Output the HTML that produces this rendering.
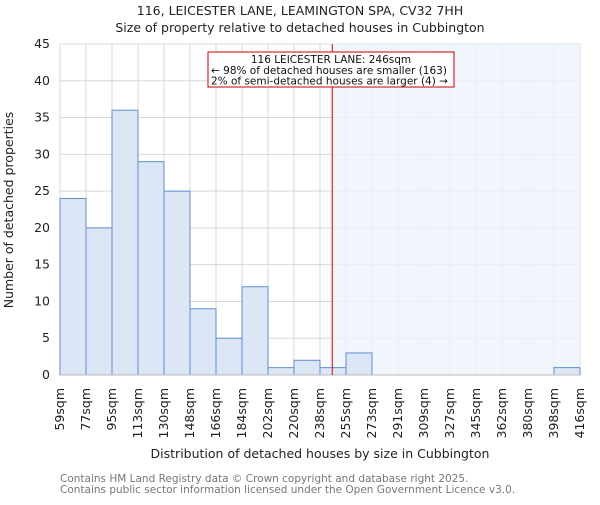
<!DOCTYPE html>
<html><head><meta charset="utf-8"><style>
body{margin:0;background:#fff;}
svg text{font-family:"DejaVu Sans","Liberation Sans",sans-serif;}
</style></head><body>
<svg id="chart" width="600" height="500" xmlns="http://www.w3.org/2000/svg">
<text x="300" y="15" text-anchor="middle" font-size="12.5" fill="#222">116, LEICESTER LANE, LEAMINGTON SPA, CV32 7HH</text>
<text x="300" y="32" text-anchor="middle" font-size="12.5" fill="#222">Size of property relative to detached houses in Cubbington</text>
<g id="grid"></g><g id="shade"></g><g id="bars"></g><g id="axes"></g>
<text transform="translate(13,210) rotate(-90)" text-anchor="middle" font-size="12.5" fill="#222">Number of detached properties</text>
<text x="320" y="458" text-anchor="middle" font-size="12.5" fill="#222">Distribution of detached houses by size in Cubbington</text>
<text x="60" y="482" font-size="10.5" fill="#777">Contains HM Land Registry data © Crown copyright and database right 2025.</text>
<text x="60" y="493" font-size="10.5" fill="#777">Contains public sector information licensed under the Open Government Licence v3.0.</text>
<g>
<rect x="208" y="52" width="246" height="35" fill="#fff" stroke="#c00" stroke-width="1"/>
<text x="331" y="63" text-anchor="middle" font-size="10.5" fill="#111">116 LEICESTER LANE: 246sqm</text>
<text x="211" y="74" font-size="10.5" fill="#111">← 98% of detached houses are smaller (163)</text>
<text x="211" y="84.5" font-size="10.5" fill="#111">2% of semi-detached houses are larger (4) →</text>
</g>
</svg>
<script>
const binLabels=["59sqm","77sqm","95sqm","113sqm","130sqm","148sqm","166sqm","184sqm","202sqm","220sqm","238sqm","255sqm","273sqm","291sqm","309sqm","327sqm","345sqm","362sqm","380sqm","398sqm","416sqm"];
const binEdges=[59,77,95,113,130,148,166,184,202,220,238,255,273,291,309,327,345,362,380,398,416];
const counts=[24,20,36,29,25,9,5,12,1,2,1,3,0,0,0,0,0,0,0,1];
const yTicks=[0,5,10,15,20,25,30,35,40,45];
const subjectSize=246;
const NS="http://www.w3.org/2000/svg";
const L=60,R=580,T=44,B=375,yMax=45;
const nb=counts.length,bw=(R-L)/nb;
const xi=i=>L+i*bw;
function xv(v){for(let i=0;i<binEdges.length-1;i++){if(v<=binEdges[i+1])return xi(i)+bw*(v-binEdges[i])/(binEdges[i+1]-binEdges[i]);}return R;}
const y=v=>B-(B-T)*v/yMax;
function mk(t,a,p){const e=document.createElementNS(NS,t);for(const k in a)e.setAttribute(k,a[k]);p.appendChild(e);return e;}
const grid=document.getElementById('grid'),bars=document.getElementById('bars'),axes=document.getElementById('axes'),shade=document.getElementById('shade');
yTicks.forEach(t=>{const l=mk('line',{x1:L,x2:R,y1:y(t),y2:y(t),stroke:'#d8d8d8'},grid);


const tx=mk('text',{x:L-10,y:y(t)+4,'text-anchor':'end','font-size':'12.5',fill:'#222'},axes);tx.textContent=t;

});
binLabels.forEach((lab,i)=>{const l=mk('line',{x1:xi(i),x2:xi(i),y1:T,y2:B,stroke:'#d8d8d8'},grid);


const tx=mk('text',{transform:`translate(${xi(i)+4},388) rotate(-90)`,'text-anchor':'end','font-size':'12.5',fill:'#222'},axes);tx.textContent=lab;

});
const sx=xv(subjectSize);
const sr=mk('rect',{x:sx,y:T,width:R-sx,height:B-T,fill:'#eef2fb',opacity:0.8},shade);


counts.forEach((c,i)=>{if(c<=0)return;const r=mk('rect',{x:xi(i),y:y(c),width:bw,height:B-y(c),fill:'#dce6f4',stroke:'#5b8fd6','stroke-width':1},bars);

});
const bl=mk('line',{x1:L,x2:R,y1:B,y2:B,stroke:'#bbb'},axes);


const rl=mk('line',{x1:sx,x2:sx,y1:T,y2:B,stroke:'#d00','stroke-width':1},axes);


</script>
</body></html>
